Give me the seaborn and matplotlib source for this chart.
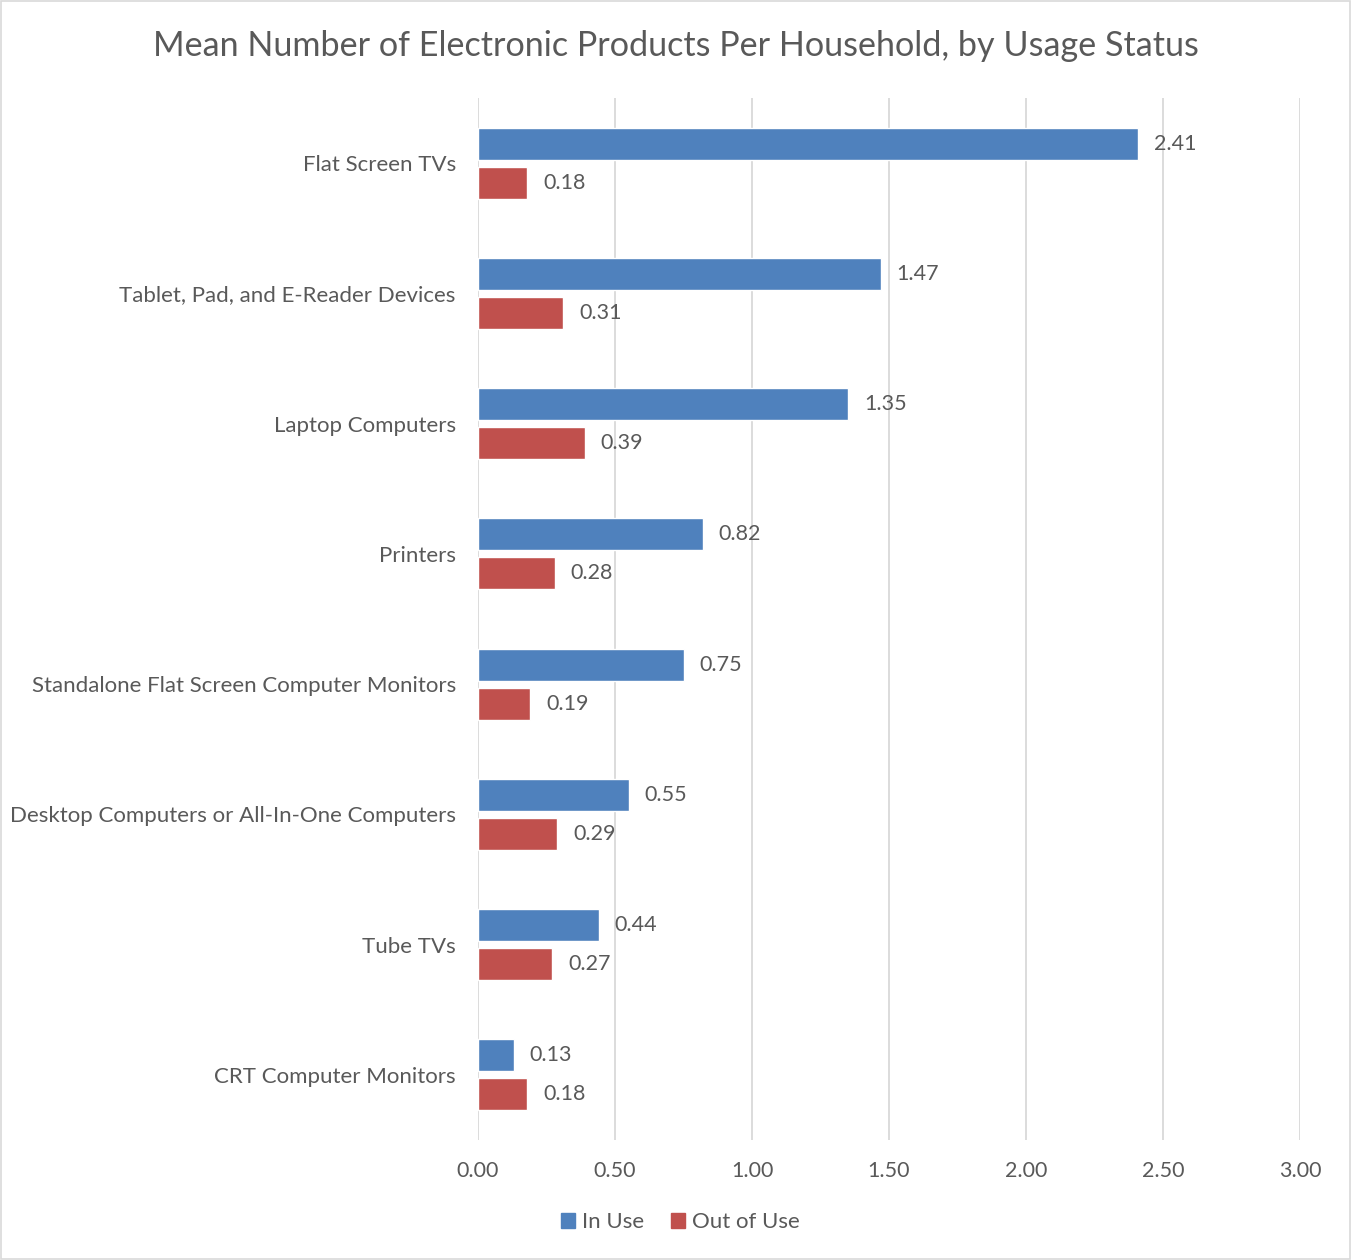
import matplotlib
matplotlib.use("Agg")
import matplotlib.pyplot as plt
import seaborn as sns
import pandas as pd
from matplotlib.patches import Rectangle

categories = [
    "Flat Screen TVs",
    "Tablet, Pad, and E-Reader Devices",
    "Laptop Computers",
    "Printers",
    "Standalone Flat Screen Computer Monitors",
    "Desktop Computers or All-In-One Computers",
    "Tube TVs",
    "CRT Computer Monitors",
]
in_use = [2.41, 1.47, 1.35, 0.82, 0.75, 0.55, 0.44, 0.13]
out_of_use = [0.18, 0.31, 0.39, 0.28, 0.19, 0.29, 0.27, 0.18]
series = ["In Use", "Out of Use"]
x_ticks = [0.0, 0.5, 1.0, 1.5, 2.0, 2.5, 3.0]

colors = {"In Use": "#4F81BD", "Out of Use": "#C0504D"}
text_color = "#595959"

df = pd.DataFrame({
    "Category": categories * 2,
    "Status": [series[0]] * len(categories) + [series[1]] * len(categories),
    "Value": in_use + out_of_use,
})

sns.set_theme(style="white")
plt.rcParams["font.family"] = ["Lato", "DejaVu Sans"]

fig = plt.figure(figsize=(13.51, 12.60), dpi=100)
ax = fig.add_axes([478 / 1351, 1 - 1140 / 1260, (1300 - 478) / 1351, (1140 - 98) / 1260])

sns.barplot(
    data=df, x="Value", y="Category", hue="Status", order=categories,
    hue_order=series, palette=colors, orient="h", width=0.6, gap=0.18,
    saturation=1, legend=False, ax=ax,
)

for cont in ax.containers:
    ax.bar_label(cont, fmt="%.2f", padding=11.5, fontsize=15.5, color=text_color)

ax.set_xlim(0, 3.0)
ax.set_ylim(len(categories) - 0.5, -0.5)
ax.set_xticks(x_ticks)
ax.set_xticklabels([f"{t:.2f}" for t in x_ticks])
ax.xaxis.grid(True, color="#D9D9D9", linewidth=1.3)
ax.set_axisbelow(True)
ax.set_xlabel("")
ax.set_ylabel("")
for s in ax.spines.values():
    s.set_visible(False)
ax.tick_params(axis="x", length=0, pad=15, labelsize=15.5, labelcolor=text_color)
ax.tick_params(axis="y", length=0, pad=16, labelsize=16, labelcolor=text_color)

fig.suptitle("Mean Number of Electronic Products Per Household, by Usage Status",
             x=676 / 1351, y=1 - 46 / 1260, va="center", fontsize=24.6, color=text_color)

handles = [Rectangle((0, 0), 1, 1, color=colors[s]) for s in series]
fig.legend(handles, series, loc="center", bbox_to_anchor=(680 / 1351, 1 - 1222 / 1260),
           ncol=2, frameon=False, fontsize=16, labelcolor=text_color,
           handlelength=0.65, handleheight=0.65, handletextpad=0.3, columnspacing=1.2)

fig.patches.append(Rectangle((0.001, 0.001), 0.998, 0.998, transform=fig.transFigure,
                             fill=False, edgecolor="#D9D9D9", linewidth=1.2))

fig.savefig("out.png", dpi=100, facecolor="white")
